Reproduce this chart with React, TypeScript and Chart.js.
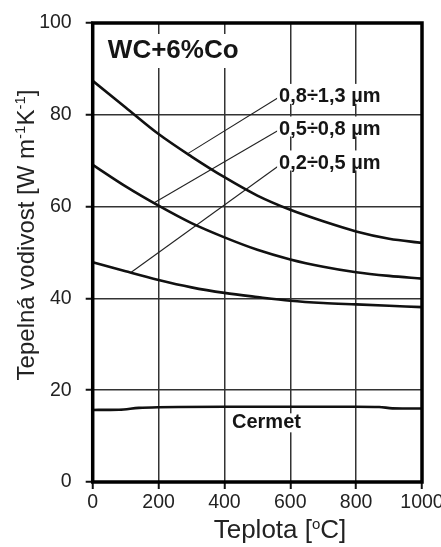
import React, { useEffect, useRef } from 'react';
import { Chart, registerables } from 'chart.js';

Chart.register(...registerables);

// Temperature grid for the WC+6%Co curves (°C)
const temperatures = [0, 100, 200, 300, 400, 500, 600, 700, 800, 900, 1000];
// Thermal conductivity, W m-1 K-1, by WC grain size
const grain08to13 = [87.4, 81.6, 75.8, 70.9, 66.4, 62.4, 59.3, 56.8, 54.6, 53.0, 52.1];
const grain05to08 = [69.1, 64.4, 60.2, 56.4, 53.3, 50.6, 48.5, 46.9, 45.7, 44.9, 44.3];
const grain02to05 = [47.9, 45.9, 44.0, 42.4, 41.2, 40.3, 39.5, 39.0, 38.7, 38.4, 38.1];

// Cermet reference curve
const cermetTemps = [0, 80, 140, 200, 400, 600, 800, 870, 910, 1000];
const cermetValues = [15.7, 15.75, 16.15, 16.3, 16.4, 16.4, 16.4, 16.35, 16.05, 16.0];

// Leader lines: label end -> point on the curve
const leader08X = [563, 290];
const leader08Y = [83.7, 71.6];
const leader05X = [563, 188];
const leader05Y = [76.6, 60.9];
const leader02X = [563, 117];
const leader02Y = [68.8, 45.7];

const seriesLabels = ['0,8÷1,3 µm', '0,5÷0,8 µm', '0,2÷0,5 µm'];
const seriesLabelY = [83.9, 76.8, 69.4];
const seriesLabelX = 566;

const xTicks = [0, 200, 400, 600, 800, 1000];
const yTicks = [0, 20, 40, 60, 80, 100];

const FONT = '"Liberation Sans", Arial, Helvetica, sans-serif';
const INK = '#151515';

type Part = { t: string; sup?: boolean };

function richWidth(ctx: CanvasRenderingContext2D, parts: Part[], size: number, supSize: number) {
  let w = 0;
  for (const p of parts) {
    ctx.font = `${p.sup ? supSize : size}px ${FONT}`;
    w += ctx.measureText(p.t).width;
  }
  return w;
}

function drawRich(
  ctx: CanvasRenderingContext2D,
  parts: Part[],
  cx: number,
  baseline: number,
  size: number,
  supSize: number,
  raise: number
) {
  const total = richWidth(ctx, parts, size, supSize);
  let x = cx - total / 2;
  ctx.textAlign = 'left';
  ctx.textBaseline = 'alphabetic';
  for (const p of parts) {
    ctx.font = `${p.sup ? supSize : size}px ${FONT}`;
    ctx.fillText(p.t, x, p.sup ? baseline - raise : baseline);
    x += ctx.measureText(p.t).width;
  }
}

function boxedLabel(
  ctx: CanvasRenderingContext2D,
  text: string,
  left: number,
  cy: number,
  size: number,
  padTop: number,
  padBottom: number,
  padX: number
) {
  ctx.font = `bold ${size}px ${FONT}`;
  const w = ctx.measureText(text).width;
  ctx.fillStyle = '#ffffff';
  ctx.fillRect(left - padX, cy - padTop, w + padX * 2, padTop + padBottom);
  ctx.fillStyle = INK;
  ctx.textAlign = 'left';
  ctx.textBaseline = 'middle';
  ctx.fillText(text, left, cy);
}

const decorations = {
  id: 'decorations',
  afterDatasetsDraw(chart: any) {
    const { ctx, scales } = chart;
    const x = scales.x;
    const y = scales.y;
    ctx.save();
    boxedLabel(ctx, 'WC+6%Co', x.getPixelForValue(46), y.getPixelForValue(93.9), 26, 17, 17, 4);
    boxedLabel(ctx, 'Cermet', x.getPixelForValue(423), y.getPixelForValue(13.0), 20, 9, 10, 3);
    seriesLabels.forEach((txt, i) => {
      boxedLabel(ctx, txt, x.getPixelForValue(seriesLabelX), y.getPixelForValue(seriesLabelY[i]), 20, 13, 7, 2);
    });
    ctx.restore();
  },
  afterDraw(chart: any) {
    const { ctx, chartArea } = chart;
    ctx.save();
    // plot frame
    ctx.strokeStyle = '#000';
    ctx.lineWidth = 3.5;
    ctx.strokeRect(chartArea.left, chartArea.top, chartArea.right - chartArea.left, chartArea.bottom - chartArea.top);

    ctx.fillStyle = '#222';
    // x axis title
    drawRich(ctx, [{ t: 'Teplota [' }, { t: 'o', sup: true }, { t: 'C]' }], 280, 538, 26, 15, 9);

    // y axis title
    ctx.translate(34, 235);
    ctx.rotate(-Math.PI / 2);
    drawRich(
      ctx,
      [{ t: 'Tepelná vodivost [W m' }, { t: '-1', sup: true }, { t: 'K' }, { t: '-1', sup: true }, { t: ']' }],
      0,
      0,
      24,
      15,
      9
    );
    ctx.restore();
  },
};

const toPoints = (xs: number[], ys: number[]) => xs.map((v, i) => ({ x: v, y: ys[i] }));

export default function App() {
  const canvasRef = useRef<HTMLCanvasElement | null>(null);

  useEffect(() => {
    if (!canvasRef.current) return;
    const curve = {
      borderColor: '#111',
      borderWidth: 2.6,
      pointRadius: 0,
      cubicInterpolationMode: 'monotone' as const,
      fill: false,
    };
    const leader = {
      borderColor: '#222',
      borderWidth: 1.1,
      pointRadius: 0,
      tension: 0,
      fill: false,
    };
    const chart = new Chart(canvasRef.current, {
      type: 'line',
      data: {
        datasets: [
          { ...curve, label: seriesLabels[0], data: toPoints(temperatures, grain08to13) },
          { ...curve, label: seriesLabels[1], data: toPoints(temperatures, grain05to08) },
          { ...curve, label: seriesLabels[2], data: toPoints(temperatures, grain02to05) },
          { ...curve, label: 'Cermet', data: toPoints(cermetTemps, cermetValues) },
          { ...leader, label: 'l1', data: toPoints(leader08X, leader08Y) },
          { ...leader, label: 'l2', data: toPoints(leader05X, leader05Y) },
          { ...leader, label: 'l3', data: toPoints(leader02X, leader02Y) },
        ],
      },
      options: {
        responsive: true,
        maintainAspectRatio: false,
        animation: false,
        events: [],
        layout: { padding: { top: 23, right: 19, bottom: 0, left: 0 } },
        plugins: { legend: { display: false }, tooltip: { enabled: false } },
        scales: {
          x: {
            type: 'linear',
            min: 0,
            max: 1000,
            afterBuildTicks: (scale: any) => {
              scale.ticks = xTicks.map((v) => ({ value: v }));
            },
            afterFit: (scale: any) => {
              scale.height = 65;
              scale.paddingLeft = 0;
              scale.paddingRight = 0;
            },
            ticks: {
              font: { family: FONT, size: 19.5 },
              color: '#222',
              padding: 2,
              maxRotation: 0,
              callback: (v: any) => String(v),
            },
            grid: { color: '#333', lineWidth: 1.5, tickLength: 7, tickColor: '#111', tickWidth: 2 },
            border: { display: false },
          },
          y: {
            type: 'linear',
            min: 0,
            max: 100,
            afterBuildTicks: (scale: any) => {
              scale.ticks = yTicks.map((v) => ({ value: v }));
            },
            afterFit: (scale: any) => {
              scale.width = 92.7;
              scale.paddingTop = 0;
              scale.paddingBottom = 0;
            },
            ticks: {
              font: { family: FONT, size: 19.5 },
              color: '#222',
              padding: 14,
              callback: (v: any) => String(v),
            },
            grid: { color: '#333', lineWidth: 1.5, tickLength: 7, tickColor: '#111', tickWidth: 2 },
            border: { display: false },
          },
        },
      },
      plugins: [decorations],
    });
    return () => chart.destroy();
  }, []);

  return (
    <div style={{ position: 'absolute', left: 0, top: 0, width: 441, height: 547, background: '#fff' }}>
      <canvas ref={canvasRef} />
    </div>
  );
}
